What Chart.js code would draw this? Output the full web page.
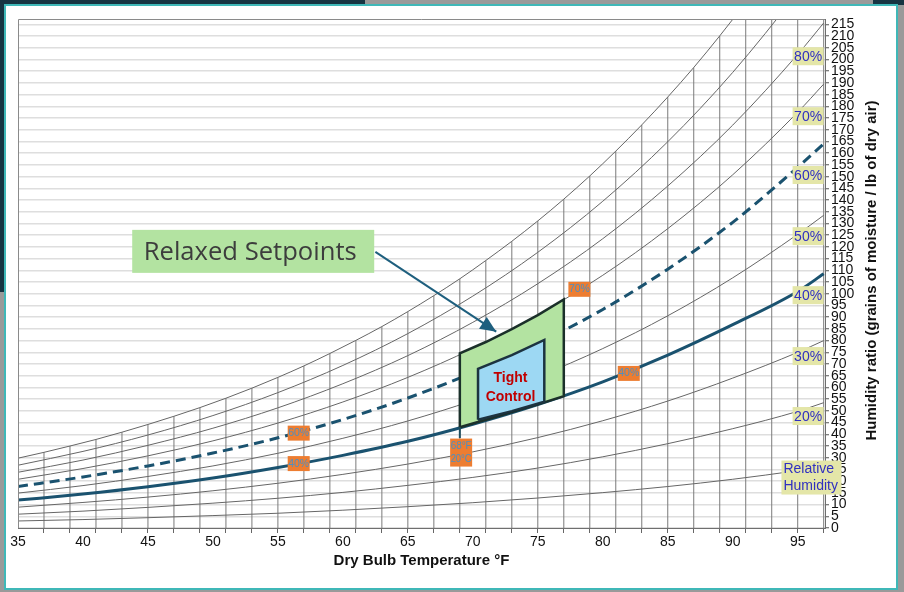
<!DOCTYPE html>
<html>
<head>
<meta charset="utf-8">
<script src="https://cdn.jsdelivr.net/npm/chart.js@4.4.1/dist/chart.umd.min.js"></script>
<style>
  body { margin: 0; width: 904px; height: 592px; overflow: hidden; background: #9a9a9a; position: relative; }
  .dark { position: absolute; background: #173442; }
  #panel { position: absolute; left: 4px; top: 4px; width: 890px; height: 582px; background: #fff; border: 2px solid #3fb8b8; }
  #psy { position: absolute; left: 0; top: 0; }
</style>
</head>
<body>
<div class="dark" style="left:0;top:0;width:365px;height:6px"></div>
<div class="dark" style="left:0;top:0;width:6px;height:292px"></div>
<div class="dark" style="left:873px;top:0;width:31px;height:5px"></div>
<div id="panel"></div>
<canvas id="psy" width="904" height="592"></canvas>
<script>
// dry bulb temps (°F) where the RH curves were read
const curveTemps = [35, 40, 45, 50, 55, 60, 65, 70, 75, 80, 85, 90, 95, 97];

// RH curves in grains of moisture / lb of dry air
const rh10 = [3.0, 3.6, 4.4, 5.3, 6.3, 7.6, 9.1, 10.8, 12.8, 15.1, 17.7, 20.8, 24.5, 26.2];
const rh20 = [5.9, 7.2, 8.8, 10.6, 12.7, 15.2, 18.2, 21.6, 25.6, 30.4, 36.0, 42.4, 49.8, 53.5];
const rh30 = [8.9, 10.9, 13.2, 15.9, 19.1, 22.9, 27.3, 32.5, 38.6, 45.8, 54.2, 64.0, 75.0, 80.0];
const rh40 = [11.9, 14.5, 17.6, 21.3, 25.8, 31.0, 37.0, 44.3, 52.7, 62.4, 73.8, 86.8, 101.0, 108.5];
const rh50 = [14.9, 18.1, 22.0, 26.5, 31.9, 38.3, 45.7, 54.4, 64.6, 76.6, 90.6, 106.8, 125.4, 133.5];
const rh60 = [17.7, 21.8, 26.5, 32.0, 38.5, 46.3, 55.5, 66.3, 78.8, 93.3, 110.5, 130.5, 154.0, 164.0];
const rh70 = [20.8, 25.4, 30.8, 37.2, 44.8, 53.8, 64.3, 76.6, 91.0, 107.9, 127.8, 150.8, 177.5, 189.5];
const rh80 = [23.8, 29.0, 35.3, 42.6, 51.3, 61.6, 73.6, 87.8, 104.3, 123.5, 146.0, 172.0, 202.2, 215.6];
const rh90 = [26.8, 32.7, 39.7, 48.0, 57.8, 69.4, 83.0, 99.0, 117.7, 139.5, 164.9, 194.5, 228.8, 244.1];

// saturation line (100%) read at every vertical grid line
const satTemps = [35, 37, 39, 41, 43, 45, 47, 49, 51, 53, 55, 57, 59, 61, 63, 65,
                  67, 69, 71, 73, 75, 77, 79, 81, 83, 85, 87, 89, 91, 93, 95, 97];
const satGrains = [29.8, 32.3, 35.0, 37.8, 40.9, 44.2, 47.7, 51.4, 55.4, 59.7, 64.3, 69.2, 74.5, 80.1, 86.0, 92.4,
                   99.2, 106.4, 114.2, 122.4, 131.1, 140.4, 150.3, 160.9, 172.1, 184.0, 196.6, 210.1, 224.4, 239.6, 255.7, 272.9];

// axis ticks
const xLabelTemps = [35, 40, 45, 50, 55, 60, 65, 70, 75, 80, 85, 90, 95];
const yTicks = [0, 5, 10, 15, 20, 25, 30, 35, 40, 45, 50, 55, 60, 65, 70, 75, 80, 85, 90, 95, 100, 105,
                110, 115, 120, 125, 130, 135, 140, 145, 150, 155, 160, 165, 170, 175, 180, 185, 190, 195,
                200, 205, 210, 215];

// design zones
const relaxedT = [69, 69, 71, 73, 75, 77, 77, 75, 73, 71, 69];
const relaxedW = [43.0, 74.6, 79.4, 84.9, 90.9, 97.6, 56.3, 52.8, 49.5, 46.2, 43.0];
const tightT = [70.4, 70.4, 73, 75.5, 75.5, 73, 70.4];
const tightW = [46.2, 67.9, 73.8, 80.3, 53.9, 49.9, 46.2];
const arrowT = [62.5, 71.8];
const arrowW = [117.9, 83.8];
const leaderT = [69, 69];
const leaderW = [43.0, 38.4];

// labels
const rhLabelText = ['80%', '70%', '60%', '50%', '40%', '30%', '20%'];
const rhLabelW = [201.4, 175.8, 150.7, 124.6, 99.4, 73.4, 47.8];
const rhLabelT = 95.8;
const tagText = [['60%'], ['40%'], ['68°F', '20°C'], ['70%'], ['40%']];
const tagT = [56.6, 56.6, 69.1, 78.2, 82.0];
const tagW = [40.5, 27.5, 32.2, 101.9, 66.0];

const FONT = "'Liberation Sans', Arial, sans-serif";
const THICK = '#1a526f';

function pts(xs, ys) {
    return xs.map((x, i) => ({ x: x, y: ys[i] }));
}

// vertical grid lines stop at the saturation line
let gridLines = [];
satTemps.slice(1).forEach((t, i) => {
    gridLines.push({ x: t, y: 0 }, { x: t, y: satGrains[i + 1] }, { x: t, y: null });
});

function thin(vals) {
    return {
        data: pts(curveTemps, vals), showLine: true, borderColor: '#666', borderWidth: 1,
        cubicInterpolationMode: 'monotone', order: 9
    };
}

const decor = {
    id: 'decor',
    afterDatasetsDraw(chart) {
        const ctx = chart.ctx;
        const xs = chart.scales.x, ys = chart.scales.y;
        const a = chart.chartArea;
        ctx.save();

        // top / left frame of plot
        ctx.strokeStyle = '#8a8a8a';
        ctx.lineWidth = 1;
        ctx.beginPath();
        ctx.moveTo(a.left + 0.5, a.bottom);
        ctx.lineTo(a.left + 0.5, a.top + 0.5);
        ctx.lineTo(a.right, a.top + 0.5);
        ctx.stroke();

        // arrow head
        const am = chart.getDatasetMeta(chart.data.datasets.findIndex(d => d.label === 'arrow'));
        const p0 = am.data[0], p1 = am.data[1];
        const ang = Math.atan2(p1.y - p0.y, p1.x - p0.x);
        ctx.fillStyle = '#1e5f7e';
        ctx.beginPath();
        ctx.moveTo(p1.x, p1.y);
        ctx.lineTo(p1.x - 16 * Math.cos(ang) + 7 * Math.sin(ang), p1.y - 16 * Math.sin(ang) - 7 * Math.cos(ang));
        ctx.lineTo(p1.x - 16 * Math.cos(ang) - 7 * Math.sin(ang), p1.y - 16 * Math.sin(ang) + 7 * Math.cos(ang));
        ctx.closePath();
        ctx.fill();

        // orange tags
        ctx.textAlign = 'center';
        ctx.textBaseline = 'middle';
        ctx.font = '11px ' + FONT;
        tagText.forEach((lines, i) => {
            const cx = xs.getPixelForValue(tagT[i]), cy = ys.getPixelForValue(tagW[i]);
            const h = lines.length * 13 + 2;
            ctx.fillStyle = '#ed7d31';
            ctx.fillRect(cx - 11, cy - h / 2, 22, h);
            ctx.fillStyle = '#4d8fc2';
            lines.forEach((s, j) => ctx.fillText(s, cx, cy - h / 2 + 7.5 + j * 13, 21));
        });

        // RH labels at right
        ctx.font = '14px ' + FONT;
        rhLabelText.forEach((s, i) => {
            const cx = xs.getPixelForValue(rhLabelT), cy = ys.getPixelForValue(rhLabelW[i]);
            ctx.fillStyle = '#e4e6a8';
            ctx.fillRect(cx - 15.5, cy - 9, 31, 18);
            ctx.fillStyle = '#3030c0';
            ctx.fillText(s, cx, cy + 1);
        });
        const rx = xs.getPixelForValue(93.75), ry = ys.getPixelForValue(28.8);
        ctx.fillStyle = '#e4e6a8';
        ctx.fillRect(rx, ry, 60, 34);
        ctx.fillStyle = '#3030c0';
        ctx.textAlign = 'left';
        ctx.fillText('Relative', rx + 2, ry + 9);
        ctx.fillText('Humidity', rx + 2, ry + 26);

        // Relaxed Setpoints callout
        const bx = xs.getPixelForValue(53.1), by = ys.getPixelForValue(118.1);
        ctx.fillStyle = '#b3e3a1';
        ctx.fillRect(bx - 121, by - 21.5, 242, 43);
        ctx.fillStyle = '#3d3d3d';
        ctx.textAlign = 'center';
        ctx.font = "26px 'Open Sans', 'Noto Sans', sans-serif";
        ctx.fillText('Relaxed Setpoints', bx - 3, by + 1, 213);

        // Tight Control
        const tx = xs.getPixelForValue(72.9), ty = ys.getPixelForValue(60.2);
        ctx.fillStyle = '#c00000';
        ctx.font = 'bold 14px ' + FONT;
        ctx.fillText('Tight', tx, ty - 9);
        ctx.fillText('Control', tx, ty + 10);

        // y axis title, reads bottom to top
        ctx.translate(a.right + 47, (a.top + a.bottom) / 2 - 3);
        ctx.rotate(-Math.PI / 2);
        ctx.fillStyle = '#111';
        ctx.font = 'bold 15px ' + FONT;
        ctx.fillText('Humidity ratio (grains of moisture / lb of dry air)', 0, 0);
        ctx.restore();
    }
};

const psyChart = new Chart(document.getElementById('psy').getContext('2d'), {
    type: 'scatter',
    data: {
        datasets: [
            { label: 'arrow', data: pts(arrowT, arrowW), showLine: true, borderColor: '#1e5f7e', borderWidth: 2, order: 1 },
            { label: 'leader', data: pts(leaderT, leaderW), showLine: true, borderColor: '#1f4e5f', borderWidth: 2, order: 2 },
            { label: 'tight', data: pts(tightT, tightW), showLine: true, fill: 'shape', backgroundColor: '#9dd8f3',
              borderColor: '#1c3340', borderWidth: 2.5, borderJoinStyle: 'miter', order: 3 },
            { label: 'relaxed', data: pts(relaxedT, relaxedW), showLine: true, fill: 'shape', backgroundColor: '#b3e3a1',
              borderColor: '#1b302a', borderWidth: 2.5, borderJoinStyle: 'miter', order: 4 },
            { label: '40%', data: pts(curveTemps, rh40), showLine: true, borderColor: THICK, borderWidth: 3,
              cubicInterpolationMode: 'monotone', order: 5 },
            { label: '60%', data: pts(curveTemps, rh60), showLine: true, borderColor: THICK, borderWidth: 3,
              borderDash: [10, 6], cubicInterpolationMode: 'monotone', order: 5 },
            thin(rh10), thin(rh20), thin(rh30), thin(rh50), thin(rh70), thin(rh80), thin(rh90),
            { label: 'sat', data: pts(satTemps, satGrains), showLine: true, borderColor: '#666', borderWidth: 1,
              cubicInterpolationMode: 'monotone', order: 9 },
            { label: 'grid', data: gridLines, showLine: true, borderColor: '#7a7a7a', borderWidth: 1, spanGaps: false, order: 10 }
        ]
    },
    options: {
        responsive: false,
        animation: false,
        events: [],
        layout: { padding: { left: 18, top: 19, right: 0, bottom: 0 } },
        elements: { point: { radius: 0 } },
        plugins: { legend: { display: false }, tooltip: { enabled: false } },
        scales: {
            x: {
                type: 'linear',
                min: 35,
                max: 97.1,
                afterBuildTicks: axis => {
                    axis.ticks = [...new Set([...xLabelTemps, ...satTemps])].sort((p, q) => p - q).map(v => ({ value: v }));
                },
                afterFit: s => { s.height = 64; },
                grid: {
                    drawOnChartArea: false,
                    tickLength: 5,
                    tickColor: c => (c.tick && satTemps.includes(c.tick.value) && c.tick.value !== 35) ? '#666' : 'rgba(0,0,0,0)'
                },
                border: { color: '#6f6f6f' },
                ticks: {
                    autoSkip: false, maxRotation: 0, padding: 1, color: '#111',
                    font: { family: FONT, size: 14 },
                    callback: v => xLabelTemps.includes(v) ? String(v) : ''
                },
                title: {
                    display: true, text: 'Dry Bulb Temperature °F', color: '#111',
                    font: { family: FONT, size: 15, weight: 'bold' },
                    padding: { top: 0, bottom: 22 }
                }
            },
            y: {
                position: 'right',
                min: 0,
                max: 217.3,
                afterBuildTicks: axis => { axis.ticks = yTicks.map(v => ({ value: v })); },
                afterFit: s => { s.width = 79; },
                grid: { color: '#dedede', lineWidth: 1.5, tickLength: 4, tickColor: '#555', tickWidth: 1 },
                border: { color: '#6f6f6f' },
                ticks: {
                    autoSkip: false, padding: 2, color: '#111',
                    font: { family: FONT, size: 14, lineHeight: 1 }
                }
            }
        }
    },
    plugins: [decor]
});
</script>
</body>
</html>
